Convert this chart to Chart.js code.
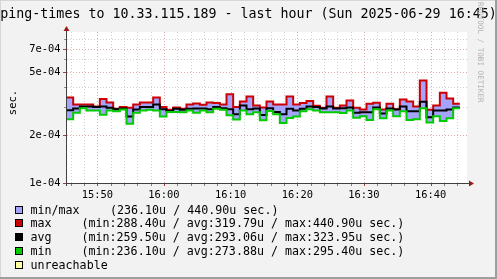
<!DOCTYPE html>
<html>
<head>
<meta charset="utf-8">
<script src="https://cdn.jsdelivr.net/npm/chart.js@4.4.1/dist/chart.umd.min.js"></script>
<style>
html,body{margin:0;padding:0;background:#f2f2f2;overflow:hidden}
canvas{display:block}
</style>
</head>
<body>
<canvas id="c" width="497" height="279"></canvas>
<script>
// ---- data (values in microseconds, one 60 s step each) ----
const firstStepMinute = 45.38;      // 15:45:23, minutes after 15:00
const stepMinutes = 1;
const maxUs = [345,312,312,312,303,338,321,293,301,297,312,321,321,345,300,288.4,298,293,312,316,310,321,318,312,362,300,325,350,307,298,325,312,312,350,312,318,328,306,297,350,297,307,330,297,290,315,319,290,315,291,335,325,303,440.9,289,307,370,340,315];
const avgUs = [287,294,303,303,300,303,297,291,294,262,290,301,301,312,291,284,293,289,293,294,294,291,301,295,291,271,307,291,294,268,295,280,271,293,286,293,303,300,294,303,294,295,298,276,278,278,298,274,294,290,303,283,283,323.95,259.5,286,286,290,298];
const minUs = [252,276,295.4,286,286,269,286,283,290,236.1,276,286,289,286,262,280,280,279,286,276,286,279,293,289,267,251,286,271,278,248,284,271,238,256,262,283,291,286,279,279,278,275,286,257,263,249,291,255,286,263,283,249,252,295,240,263,245,255,295];

const xTickMinutes = [50,60,70,80,90,100];
const xTickLabels = ['15:50','16:00','16:10','16:20','16:30','16:40'];
const yMajorValues = [1e-4,2e-4,5e-4,7e-4];
const yTickLabels = ['1e-04','2e-04','5e-04','7e-04'];
const yMinorValues = [3e-4,4e-4,6e-4,8e-4];

const titleText = 'ping-times to 10.33.115.189 - last hour (Sun 2025-06-29 16:45)';
const legendLabels = ['min/max','max','avg','min','unreachable'];
const legendTexts = [
  '(236.10u / 440.90u sec.)',
  '(min:288.40u / avg:319.79u / max:440.90u sec.)',
  '(min:259.50u / avg:293.06u / max:323.95u sec.)',
  '(min:236.10u / avg:273.88u / max:295.40u sec.)',
  ''
];

// ---- styles ----
const COL_AREA = '#a4a4ff', COL_MAX = '#cc0000', COL_AVG = '#000000', COL_MIN = '#00cc00', COL_UNR = '#ffffa0';
const legendColors = [COL_AREA, COL_MAX, COL_AVG, COL_MIN, COL_UNR];
const MONO = 'DejaVu Sans Mono';

function toPoints(arr){
  const pts = arr.map((v,i)=>({x: firstStepMinute + i*stepMinutes, y: v*1e-6}));
  pts.push({x: firstStepMinute + arr.length*stepMinutes, y: arr[arr.length-1]*1e-6});
  return pts;
}

const rrdFrame = {
  id: 'rrdFrame',
  beforeDraw(chart){
    const ctx = chart.ctx, a = chart.chartArea, xs = chart.scales.x, ys = chart.scales.y;
    const W = chart.width, H = chart.height;
    ctx.save();
    ctx.fillStyle = '#f2f2f2'; ctx.fillRect(0,0,W,H);
    ctx.fillStyle = '#d6d6d6'; ctx.fillRect(0,0,W,1); ctx.fillRect(0,0,1,H);
    ctx.fillStyle = '#9e9e9e'; ctx.fillRect(0,H-2,W,2); ctx.fillRect(W-2,0,2,H);
    ctx.fillStyle = '#ffffff'; ctx.fillRect(a.left,a.top,a.right-a.left,a.bottom-a.top);
    ctx.lineWidth = 1; ctx.setLineDash([1,2]);
    // vertical grid (every 2 min, majors every 10)
    for (let m = Math.ceil(xs.min/2)*2; m <= xs.max; m += 2){
      const px = Math.round(xs.getPixelForValue(m)) + 0.5;
      ctx.strokeStyle = (m % 10 === 0) ? '#e2a8a8' : '#d0d0d0';
      ctx.beginPath(); ctx.moveTo(px, a.top); ctx.lineTo(px, a.bottom); ctx.stroke();
    }
    // horizontal grid
    const hl = (v, col) => {
      const py = Math.round(ys.getPixelForValue(v)) + 0.5;
      if (py < a.top || py > a.bottom - 1) return;
      ctx.strokeStyle = col;
      ctx.beginPath(); ctx.moveTo(a.left, py); ctx.lineTo(a.right, py); ctx.stroke();
    };
    yMinorValues.forEach(v => hl(v, '#d0d0d0'));
    yMajorValues.forEach(v => hl(v, '#e2a8a8'));
    ctx.restore();
  },
  afterDraw(chart){
    const ctx = chart.ctx, a = chart.chartArea, xs = chart.scales.x, ys = chart.scales.y;
    ctx.save();
    ctx.setLineDash([]);
    ctx.lineWidth = 1;
    // axis lines
    ctx.strokeStyle = '#404040';
    ctx.beginPath(); ctx.moveTo(a.left - 3, a.bottom + 0.5); ctx.lineTo(a.right + 3, a.bottom + 0.5); ctx.stroke();
    ctx.beginPath(); ctx.moveTo(a.left - 0.5, a.bottom + 3); ctx.lineTo(a.left - 0.5, a.top - 3); ctx.stroke();
    // arrows
    ctx.fillStyle = '#9a1a1a';
    ctx.beginPath(); ctx.moveTo(a.right + 7, a.bottom + 0.5); ctx.lineTo(a.right + 2, a.bottom - 2.5); ctx.lineTo(a.right + 2, a.bottom + 3.5); ctx.closePath(); ctx.fill();
    ctx.beginPath(); ctx.moveTo(a.left - 0.5, a.top - 6); ctx.lineTo(a.left - 3.5, a.top - 1); ctx.lineTo(a.left + 2.5, a.top - 1); ctx.closePath(); ctx.fill();
    // x ticks
    for (let m = Math.ceil(xs.min/2)*2; m <= xs.max; m += 2){
      const px = Math.round(xs.getPixelForValue(m)) + 0.5;
      ctx.strokeStyle = (m % 10 === 0) ? '#a04040' : '#808080';
      ctx.beginPath(); ctx.moveTo(px, a.bottom + 1); ctx.lineTo(px, a.bottom + 3); ctx.stroke();
    }
    // y ticks
    const yt = (v, col, len) => {
      const py = Math.round(ys.getPixelForValue(v)) + 0.5;
      ctx.strokeStyle = col;
      ctx.beginPath(); ctx.moveTo(a.left - 1 - len, py); ctx.lineTo(a.left - 1, py); ctx.stroke();
    };
    yMinorValues.forEach(v => yt(v, '#909090', 2));
    yMajorValues.forEach(v => yt(v, '#a04040', 3));
    // tick labels
    ctx.fillStyle = '#000';
    ctx.font = '10.4px "' + MONO + '"';
    ctx.textAlign = 'center'; ctx.textBaseline = 'alphabetic';
    xTickMinutes.forEach((m,i) => ctx.fillText(xTickLabels[i], xs.getPixelForValue(m), 197.5));
    ctx.textAlign = 'right'; ctx.textBaseline = 'middle';
    yMajorValues.forEach((v,i) => ctx.fillText(yTickLabels[i], 60.5, ys.getPixelForValue(v) + 0.5));
    // title
    ctx.font = '13.3px "' + MONO + '"';
    ctx.textAlign = 'center'; ctx.textBaseline = 'alphabetic';
    ctx.fillText(titleText, 248.5, 17.5);
    // unit label
    ctx.save();
    ctx.translate(15.5, 102.5); ctx.rotate(-Math.PI/2);
    ctx.font = '10.5px "' + MONO + '"';
    ctx.textAlign = 'center'; ctx.textBaseline = 'alphabetic';
    ctx.fillText('sec.', 0, 0);
    ctx.restore();
    // watermark
    ctx.save();
    ctx.translate(477.5, 2); ctx.rotate(Math.PI/2);
    ctx.font = '7.6px "' + MONO + '"';
    ctx.fillStyle = '#b4b4b4';
    ctx.textAlign = 'left'; ctx.textBaseline = 'alphabetic';
    ctx.fillText('RRDTOOL / TOBI OETIKER', 0, 0);
    ctx.restore();
    // legend
    ctx.font = '11.66px "' + MONO + '"';
    ctx.textAlign = 'left'; ctx.textBaseline = 'alphabetic';
    legendLabels.forEach((lab, i) => {
      const base = 213.5 + i*13.8;
      const cy = base - 4;
      ctx.fillStyle = legendColors[i];
      ctx.fillRect(16, Math.round(cy) - 3, 6, 6);
      ctx.strokeStyle = '#000'; ctx.lineWidth = 1;
      ctx.strokeRect(15.5, Math.round(cy) - 3.5, 7, 7);
      ctx.fillStyle = '#000';
      ctx.fillText(lab, 30.5, base);
      if (legendTexts[i]) ctx.fillText(legendTexts[i], i === 0 ? 110 : 81.5, base);
    });
    ctx.restore();
  }
};

new Chart(document.getElementById('c'), {
  type: 'line',
  data: {
    datasets: [
      { label: 'min/max', data: toPoints(maxUs), stepped: 'before', borderWidth: 0, borderColor: 'rgba(0,0,0,0)',
        backgroundColor: COL_AREA, fill: { target: 3 }, pointRadius: 0, order: 4 },
      { label: 'max', data: toPoints(maxUs), stepped: 'before', borderWidth: 2, borderColor: COL_MAX, fill: false, pointRadius: 0, order: 3 },
      { label: 'avg', data: toPoints(avgUs), stepped: 'before', borderWidth: 2, borderColor: COL_AVG, fill: false, pointRadius: 0, order: 2 },
      { label: 'min', data: toPoints(minUs), stepped: 'before', borderWidth: 2, borderColor: COL_MIN, fill: false, pointRadius: 0, order: 1 }
    ]
  },
  options: {
    responsive: false,
    animation: false,
    devicePixelRatio: 1,
    layout: { padding: { left: 67, top: 32, right: 30, bottom: 96 } },
    scales: {
      x: { type: 'linear', min: 45.455, max: 105.455, display: false },
      y: { type: 'logarithmic', min: 1e-4, max: 8.9e-4, display: false }
    },
    plugins: { legend: { display: false }, tooltip: { enabled: false } },
    elements: { line: { borderJoinStyle: 'miter', borderCapStyle: 'butt', tension: 0 } }
  },
  plugins: [rrdFrame]
});
</script>
</body>
</html>
